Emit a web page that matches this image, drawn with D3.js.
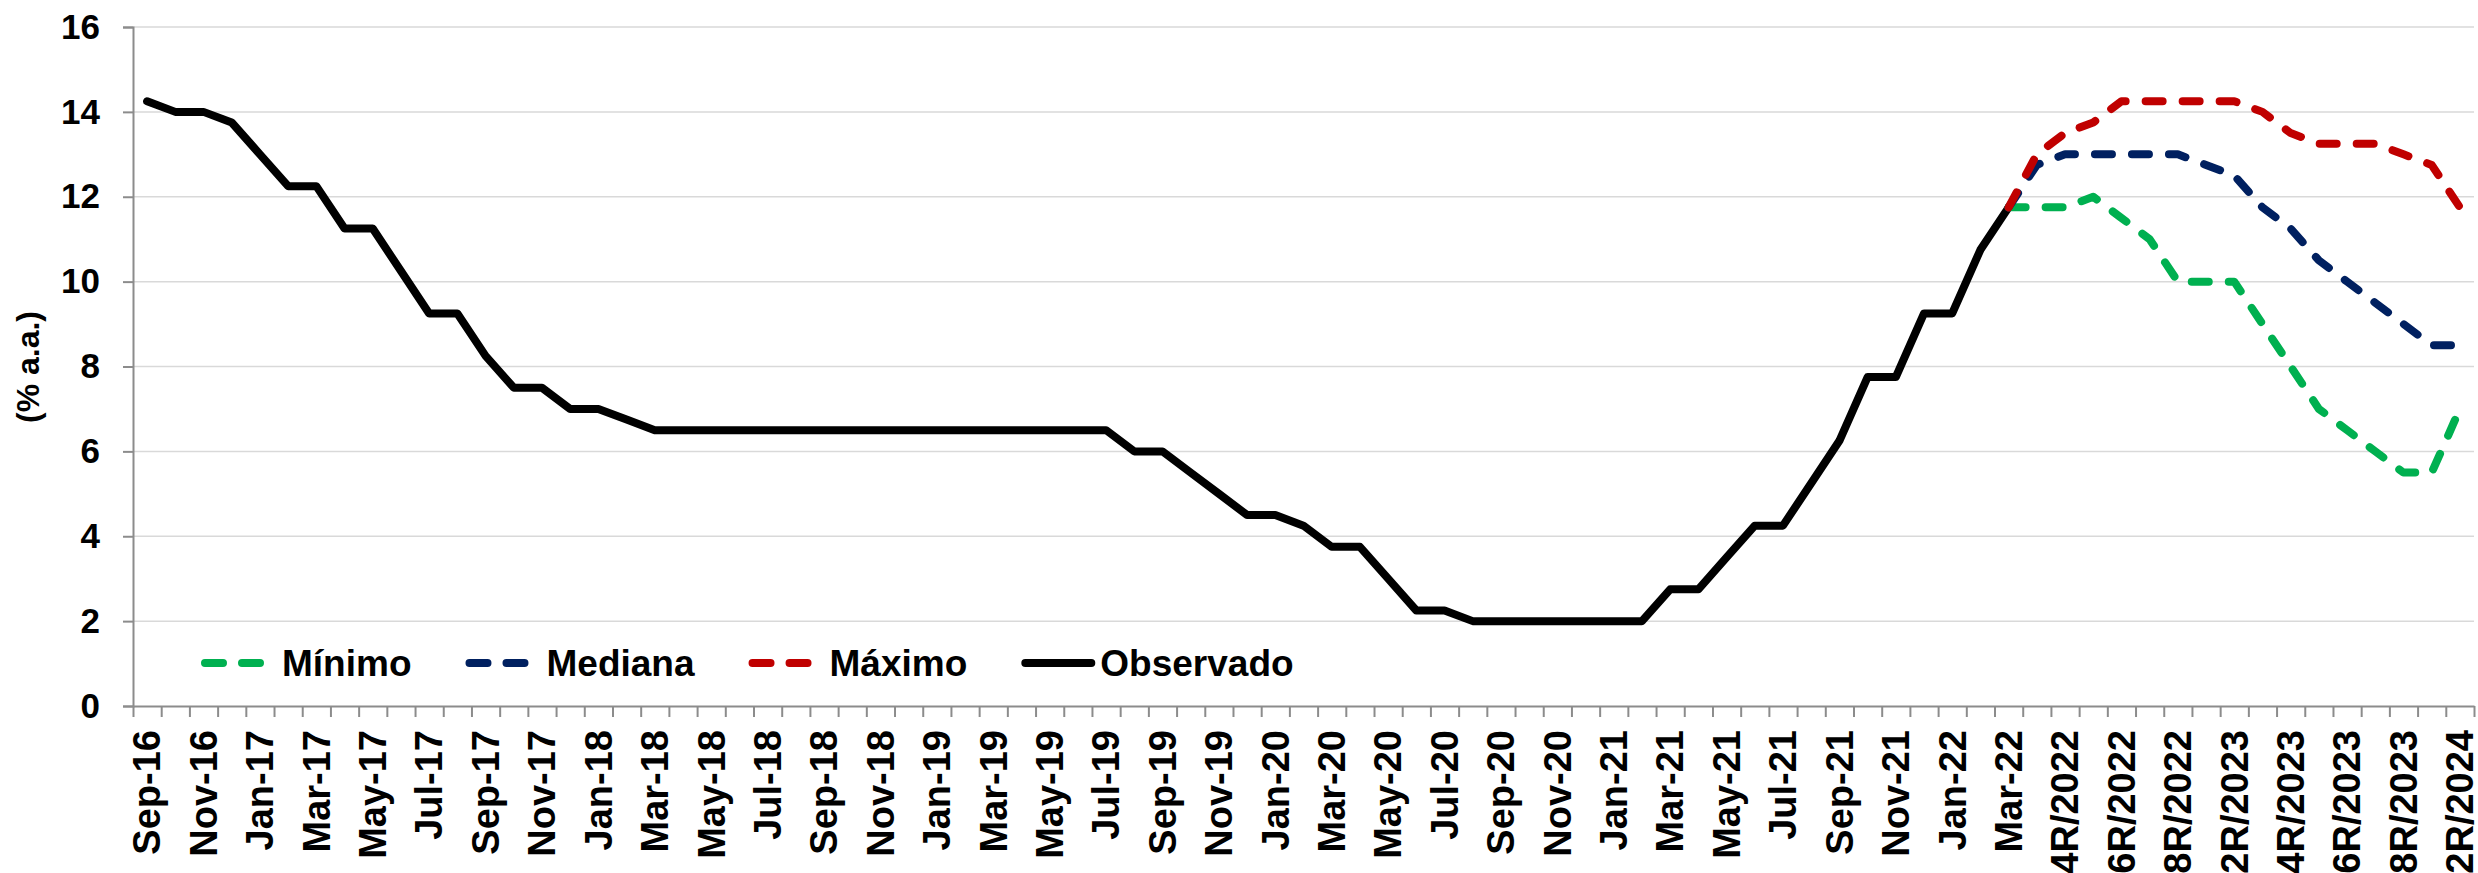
<!DOCTYPE html>
<html>
<head>
<meta charset="utf-8">
<script src="https://cdn.jsdelivr.net/npm/d3@7"></script>
<style>
  body { margin: 0; background: #fff; }
  svg { display: block; font-family: "Liberation Sans", Arial, sans-serif; font-weight: bold; }
</style>
</head>
<body>
<div id="chart"></div>
<script>
// monthly observations, then the Copom meetings (forecast part)
const months = [
  'Sep-16', 'Oct-16', 'Nov-16', 'Dec-16',
  'Jan-17', 'Feb-17', 'Mar-17', 'Apr-17', 'May-17', 'Jun-17', 'Jul-17', 'Aug-17', 'Sep-17', 'Oct-17', 'Nov-17', 'Dec-17',
  'Jan-18', 'Feb-18', 'Mar-18', 'Apr-18', 'May-18', 'Jun-18', 'Jul-18', 'Aug-18', 'Sep-18', 'Oct-18', 'Nov-18', 'Dec-18',
  'Jan-19', 'Feb-19', 'Mar-19', 'Apr-19', 'May-19', 'Jun-19', 'Jul-19', 'Aug-19', 'Sep-19', 'Oct-19', 'Nov-19', 'Dec-19',
  'Jan-20', 'Feb-20', 'Mar-20', 'Apr-20', 'May-20', 'Jun-20', 'Jul-20', 'Aug-20', 'Sep-20', 'Oct-20', 'Nov-20', 'Dec-20',
  'Jan-21', 'Feb-21', 'Mar-21', 'Apr-21', 'May-21', 'Jun-21', 'Jul-21', 'Aug-21', 'Sep-21', 'Oct-21', 'Nov-21', 'Dec-21',
  'Jan-22', 'Feb-22', 'Mar-22'
];
const meetings = [
  '3R/2022', '4R/2022', '5R/2022', '6R/2022', '7R/2022', '8R/2022',
  '1R/2023', '2R/2023', '3R/2023', '4R/2023', '5R/2023', '6R/2023', '7R/2023', '8R/2023',
  '1R/2024', '2R/2024'
];
const categories = months.concat(meetings);

const observado = [
  14.25, 14, 14, 13.75,
  13, 12.25, 12.25, 11.25, 11.25, 10.25, 9.25, 9.25, 8.25, 7.5, 7.5, 7,
  7, 6.75, 6.5, 6.5, 6.5, 6.5, 6.5, 6.5, 6.5, 6.5, 6.5, 6.5,
  6.5, 6.5, 6.5, 6.5, 6.5, 6.5, 6.5, 6, 6, 5.5, 5, 4.5,
  4.5, 4.25, 3.75, 3.75, 3, 2.25, 2.25, 2, 2, 2, 2, 2,
  2, 2, 2.75, 2.75, 3.5, 4.25, 4.25, 5.25, 6.25, 7.75, 7.75, 9.25,
  9.25, 10.75, 11.75
];

// forecast series start at Mar-22 (last observed point)
const forecastCats = ['Mar-22'].concat(meetings);
const minimo  = [11.75, 11.75, 11.75, 12, 11.5, 11, 10, 10, 10, 9, 8, 7, 6.5, 6, 5.5, 5.5, 7];
const mediana = [11.75, 12.75, 13, 13, 13, 13, 13, 12.75, 12.5, 11.75, 11.25, 10.5, 10, 9.5, 9, 8.5, 8.5];
const maximo  = [11.75, 13, 13.5, 13.75, 14.25, 14.25, 14.25, 14.25, 14.25, 14, 13.5, 13.25, 13.25, 13.25, 13, 12.75, 11.75];

const yTicks = [0, 2, 4, 6, 8, 10, 12, 14, 16];

const series = [
  {name: 'Mínimo',    values: minimo,    cats: forecastCats, color: '#00B050', dashed: true},
  {name: 'Mediana',   values: mediana,   cats: forecastCats, color: '#002060', dashed: true},
  {name: 'Máximo',    values: maximo,    cats: forecastCats, color: '#C00000', dashed: true},
  {name: 'Observado', values: observado, cats: months,       color: '#000000', dashed: false}
];

const width = 2478;
const height = 873;
const plotLeft = 133, plotRight = 2474, plotTop = 27, plotBottom = 706;
const axisColor = '#8c8c8c';
const font = '"Liberation Sans", Arial, sans-serif';

const svg = d3.select('#chart')
  .append('svg')
    .attr('width', width)
    .attr('height', height);

const xScale = d3.scaleBand()
  .domain(categories)
  .range([plotLeft, plotRight])
  .padding(0);

// boundaries of the bands, used for the tick marks between categories
const xEdges = d3.scaleLinear().domain([0, categories.length]).range([plotLeft, plotRight]);

const yScale = d3.scaleLinear().domain([0, 16]).range([plotBottom, plotTop]);

const cx = (c) => xScale(c) + xScale.bandwidth() / 2;

// gridlines
svg.append('g')
  .selectAll('line')
  .data(yTicks.filter(d => d > 0))
  .enter()
    .append('line')
      .attr('x1', plotLeft)
      .attr('x2', plotRight)
      .attr('y1', d => yScale(d))
      .attr('y2', d => yScale(d))
      .attr('stroke', '#d9d9d9')
      .attr('stroke-width', 1.5);

// y axis
const yAxis = svg.append('g')
  .attr('transform', `translate(${plotLeft},0)`)
  .call(d3.axisLeft(yScale).tickValues(yTicks).tickFormat(d3.format('d')).tickSize(10).tickPadding(23));
yAxis.select('.domain').attr('stroke', axisColor).attr('stroke-width', 2);
yAxis.selectAll('.tick line').attr('stroke', axisColor).attr('stroke-width', 2);
yAxis.selectAll('.tick text')
  .attr('fill', '#000')
  .style('font-size', '35px')
  .style('font-weight', 'bold')
  .style('font-family', font);

// x axis: tick marks on the band edges
const xTickAxis = svg.append('g')
  .attr('transform', `translate(0,${plotBottom})`)
  .call(d3.axisBottom(xEdges).tickValues(d3.range(categories.length + 1)).tickFormat('').tickSize(11).tickSizeOuter(0));
xTickAxis.select('.domain').attr('stroke', axisColor).attr('stroke-width', 2);
xTickAxis.selectAll('.tick line').attr('stroke', axisColor).attr('stroke-width', 2);

// x axis labels, every second category (the last ones run off the bottom, like the original)
const xLabelAxis = svg.append('g')
  .attr('transform', `translate(0,${plotBottom})`)
  .call(d3.axisBottom(xScale).tickValues(categories.filter((c, i) => i % 2 === 0)).tickSize(0));
xLabelAxis.select('.domain').remove();
xLabelAxis.selectAll('.tick text')
  .attr('transform', 'rotate(-90)')
  .attr('x', -24)
  .attr('y', 0)
  .attr('dy', '0.35em')
  .attr('text-anchor', 'end')
  .attr('fill', '#000')
  .style('font-size', '38px')
  .style('font-weight', 'bold')
  .style('font-family', font);

// y axis title
svg.append('text')
  .attr('transform', 'translate(28,367) rotate(-90)')
  .attr('text-anchor', 'middle')
  .attr('dy', '0.35em')
  .style('font-size', '32px')
  .text('(% a.a.)');

// lines - observed first so the forecasts sit on top of its last point
const line = d3.line()
  .x(d => cx(d.cat))
  .y(d => yScale(d.value));

const drawOrder = [series[3], series[0], series[1], series[2]];
drawOrder.forEach(s => {
  const pts = s.values.map((v, i) => ({cat: s.cats[i], value: v}));
  svg.append('path')
    .datum(pts)
    .attr('d', line)
    .attr('fill', 'none')
    .attr('stroke', s.color)
    .attr('stroke-width', 8)
    .attr('stroke-linejoin', 'round')
    .attr('stroke-linecap', 'round')
    .attr('stroke-dasharray', s.dashed ? '17,20' : null);
});

// legend inside the plot, bottom left
const legendY = 663;
let lx = 201;
series.forEach(s => {
  const symLen = s.dashed ? 64 : 74;
  const textGap = s.dashed ? 17 : 5;
  const g = svg.append('g').attr('transform', `translate(${lx},${legendY})`);
  g.append('line')
    .attr('x1', 4)
    .attr('x2', symLen - 4)
    .attr('y1', 0)
    .attr('y2', 0)
    .attr('stroke', s.color)
    .attr('stroke-width', 8)
    .attr('stroke-linecap', 'round')
    .attr('stroke-dasharray', s.dashed ? '18,19' : null);
  const t = g.append('text')
    .attr('x', symLen + textGap)
    .attr('dy', '0.35em')
    .style('font-size', '37px')
    .text(s.name);
  lx += symLen + textGap + t.node().getComputedTextLength() + 54;
});
</script>
</body>
</html>
